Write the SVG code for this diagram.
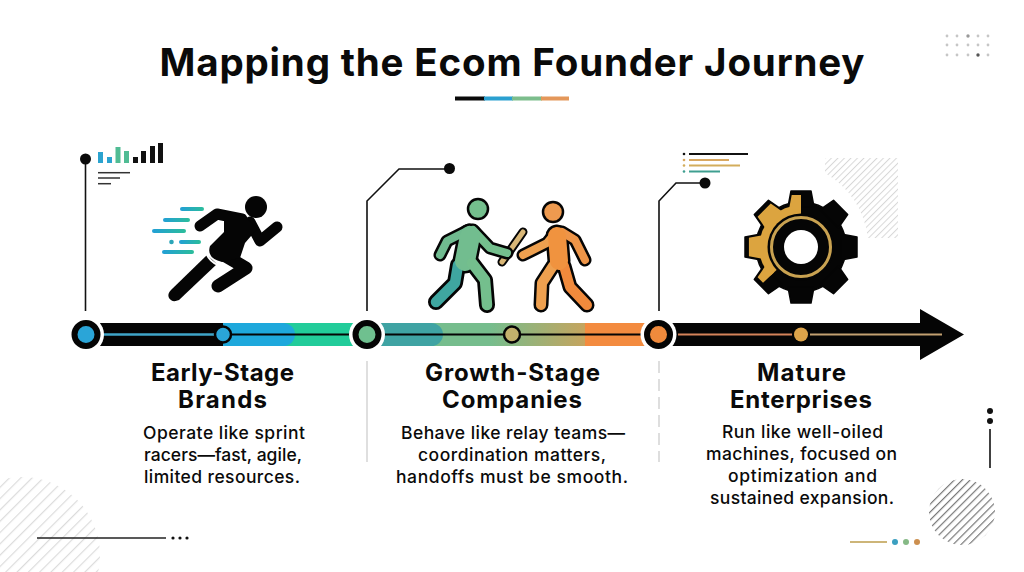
<svg xmlns="http://www.w3.org/2000/svg" xmlns:xlink="http://www.w3.org/1999/xlink" width="1024" height="572" viewBox="0 0 1024 572">
<style>
text{font-family:"Inter","Liberation Sans",sans-serif;fill:#0a0a0a;text-anchor:middle}
.title{font-size:38.500px;font-weight:700}
.head{font-size:24px;font-weight:700}
.body{font-size:17.500px;font-weight:500}
.thin{fill:none;stroke:#111;stroke-width:1.600}
.rl{fill:none;stroke-linecap:round;stroke-linejoin:round}
</style>
<defs>
<pattern id="hL" width="8" height="8" patternUnits="userSpaceOnUse" patternTransform="rotate(45)"><rect width="1.200" height="8" fill="#dcdcdc"/></pattern>
<pattern id="hS" width="4.600" height="4.600" patternUnits="userSpaceOnUse" patternTransform="rotate(45)"><rect width="1" height="4.600" fill="#d8d8d8"/></pattern>
<pattern id="hD" width="5.600" height="5.600" patternUnits="userSpaceOnUse" patternTransform="rotate(45)"><rect width="1.200" height="5.600" fill="#777"/></pattern>
<linearGradient id="speed"><stop offset="0" stop-color="#229fd6"/><stop offset="1" stop-color="#2bbd9a"/></linearGradient>
<linearGradient id="b2" gradientUnits="userSpaceOnUse" x1="490" x2="590" y1="0" y2="0"><stop offset="0" stop-color="#76bd8d"/><stop offset="1" stop-color="#c9a35c"/></linearGradient>
<g id="gear"><circle r="45"/>
<path d="M-10-56H10L13-40H-13Z"/><path d="M-10-56H10L13-40H-13Z" transform="rotate(45)"/><path d="M-10-56H10L13-40H-13Z" transform="rotate(90)"/><path d="M-10-56H10L13-40H-13Z" transform="rotate(135)"/><path d="M-10-56H10L13-40H-13Z" transform="rotate(180)"/><path d="M-10-56H10L13-40H-13Z" transform="rotate(225)"/><path d="M-10-56H10L13-40H-13Z" transform="rotate(270)"/><path d="M-10-56H10L13-40H-13Z" transform="rotate(315)"/></g>
<clipPath id="gclip"><path d="M801 247V185H730V314Z"/></clipPath>
</defs>
<rect width="1024" height="572" fill="#fff"/>
<g id="decor">
<circle cx="22" cy="555" r="78" fill="url(#hL)"/>
<path d="M825 158H898V238H868Q862 195 825 173Z" fill="url(#hS)"/>
<circle cx="962" cy="512" r="33" fill="url(#hD)"/>
<path d="M37 538H166" stroke="#222" stroke-width="1.600"/>
<g fill="#111"><circle cx="173" cy="538" r="1.600"/><circle cx="180" cy="538" r="1.600"/><circle cx="187" cy="538" r="1.600"/></g>
<circle cx="990" cy="411" r="3" fill="#111"/><circle cx="990" cy="421" r="3" fill="#111"/>
<path d="M990 429V468" stroke="#111" stroke-width="1.600"/>
<path d="M850 542H887" stroke="#cdb578" stroke-width="2"/>
<circle cx="895" cy="542" r="3" fill="#3b9fc0"/><circle cx="906" cy="542" r="3" fill="#86b986"/><circle cx="917" cy="542" r="3" fill="#cc8f4f"/>
<g fill="#c6c6c6"><circle cx="947" cy="36" r="1.400"/><circle cx="957" cy="36" r="1.400"/><circle cx="968" cy="36" r="1.700" fill="#999"/><circle cx="978" cy="36" r="1.400"/><circle cx="988" cy="36" r="1.400"/><circle cx="947" cy="45" r="1.400"/><circle cx="957" cy="45" r="1.400"/><circle cx="968" cy="45" r="1.400"/><circle cx="978" cy="45" r="1.400"/><circle cx="988" cy="45" r="1.400"/><circle cx="947" cy="55" r="1.400"/><circle cx="957" cy="55" r="1.400"/><circle cx="968" cy="55" r="1.400"/><circle cx="978" cy="55" r="1.700" fill="#555"/><circle cx="988" cy="55" r="1.400"/></g>
<path d="M367 361V462" stroke="#d4d4d4" stroke-width="1.500"/>
<path d="M659 361V462" stroke="#d4d4d4" stroke-width="1.500" stroke-dasharray="12 6"/>
</g>
<g id="title">
<text class="title" x="512" y="76" textLength="705">Mapping the Ecom Founder Journey</text>
<rect x="455" y="96.500" width="30" height="4" fill="#0a0a0a"/><rect x="484" y="96.500" width="29" height="4" fill="#2aa0d0"/><rect x="512" y="96.500" width="30" height="4" fill="#7cbd8c"/><rect x="541" y="96.500" width="28" height="4" fill="#e4975a"/>
</g>
<g id="connectors">
<path class="thin" d="M85.500 159V311"/>
<circle cx="85.500" cy="159" r="5.500" fill="#0a0a0a"/>
<path class="thin" d="M367 311V201L399 169H449"/>
<circle cx="449.500" cy="168.500" r="5.500" fill="#0a0a0a"/>
<path class="thin" d="M659 311V201L676 183H705"/>
<circle cx="705" cy="183" r="5.500" fill="#0a0a0a"/>
<g id="timeline">
<rect x="223" y="323" width="135" height="23" fill="#22cc9a"/>
<path d="M223 323H283A12 11.500 0 0 1 283 346H223Z" fill="#1ea8dc"/>
<rect x="100" y="323" width="123" height="23" fill="#050505"/>
<rect x="376" y="323" width="270" height="23" fill="#76bd8d"/>
<rect x="490" y="323" width="100" height="23" fill="url(#b2)"/>
<rect x="585" y="323" width="60" height="23" fill="#f38b3f"/>
<path d="M376 323H431A12 11.500 0 0 1 431 346H376Z" fill="#3fa3a3"/>
<path d="M668 323H920V309L964 334.500L920 360V346H668Z" fill="#050505"/>
<path d="M100 334.500H223" stroke="#3fa5c8" stroke-width="2.400"/>
<path d="M223 334.500H355" stroke="#050505" stroke-width="2.200"/>
<path d="M380 334.500H645" stroke="#050505" stroke-width="2.200"/>
<path d="M678 334.500H792" stroke="#d5835a" stroke-width="2.200"/>
<path d="M810 334.500H942" stroke="#c2a070" stroke-width="2.200"/>
</g>
</g>
<g id="node-early">
<circle cx="86" cy="334.500" r="18" fill="#fff"/><circle cx="86" cy="334.500" r="11.500" fill="#2aa5d8" stroke="#050505" stroke-width="6"/>
<circle cx="223" cy="334.500" r="8" fill="#2aa5d8" stroke="#050505" stroke-width="2.500"/>
<g fill="#2ba3cf"><rect x="98" y="152" width="5" height="11"/><rect x="107" y="157" width="5" height="6"/></g>
<g fill="#50bc94"><rect x="115.500" y="147" width="5" height="16"/><rect x="124" y="151" width="5" height="12"/></g>
<g fill="#111"><rect x="133" y="157" width="5" height="6"/><rect x="141" y="151" width="5" height="12"/><rect x="150" y="146" width="5" height="17"/><rect x="158" y="143" width="5" height="20"/></g>
<g stroke="#333" stroke-width="1.500"><path d="M98 172.700H130"/><path d="M98 178H120"/><path d="M98 183.700H111"/></g>
<g fill="url(#speed)"><rect x="180" y="207" width="24" height="4" rx="2"/><rect x="163" y="218" width="27" height="4" rx="2"/><rect x="152" y="229" width="34" height="4" rx="2"/><rect x="179" y="240" width="22" height="4" rx="2"/><rect x="162" y="250" width="32" height="4" rx="2"/></g>
<circle cx="171.500" cy="242" r="2.300" fill="#2aa5b8"/>
<circle cx="256" cy="207" r="11" fill="#050505"/>
<path d="M207 255L217 264L179 300Q172 303 169 298Q167 294 171 290Z" fill="#050505"/>
<g class="rl" stroke="#050505">
<path d="M200 226L217 214L242 219" stroke-width="11"/>
<path d="M250 222L260 241L277 227" stroke-width="11"/>
<path d="M222 254L246 268L218 286" stroke-width="13"/>
</g>
<path d="M224 211L246 217L257 229L245 243L240 258L222 262Q206 258 210 246L224 232Z" fill="#050505"/>
<path d="M206 253Q210 262 218 265" fill="none" stroke="#fff" stroke-width="2"/>
<text class="head" x="222.500" y="381" textLength="143">Early-Stage</text><text class="head" x="222.500" y="408" textLength="89">Brands</text>
<text class="body" x="224" y="439" textLength="162">Operate like sprint</text><text class="body" x="223" y="461" textLength="158">racers—fast, agile,</text><text class="body" x="222" y="483" textLength="156">limited resources.</text>
</g>
<g id="node-growth">
<circle cx="367" cy="334.500" r="18" fill="#fff"/><circle cx="367" cy="334.500" r="11.500" fill="#6fc08f" stroke="#050505" stroke-width="6"/>
<circle cx="512" cy="334.500" r="8" fill="#c3b06c" stroke="#050505" stroke-width="2.500"/>
<path d="M523 232L502 262" stroke="#050505" stroke-width="9" stroke-linecap="round"/><path d="M523 232L502 262" stroke="#d9b777" stroke-width="5" stroke-linecap="round"/>
<circle cx="478" cy="209" r="10" fill="#74bf8d" stroke="#050505" stroke-width="2.500"/>
<g class="rl" stroke="#050505">
<path d="M469 230L447 241L440 255" stroke-width="13"/>
<path d="M473 230L490 248L507 253" stroke-width="13"/>
<path d="M470 236L465 261" stroke-width="25"/>
<path d="M458 265L455 283L436 302" stroke-width="16"/>
<path d="M472 263L485 280L487 305" stroke-width="16"/>
</g>
<g class="rl">
<path d="M458 265L455 283L436 302" stroke="#3fa6a0" stroke-width="10.500"/>
<path d="M469 230L447 241L440 255" stroke="#6fba8f" stroke-width="8"/>
<path d="M473 230L490 248L507 253" stroke="#74bf8d" stroke-width="8"/>
<path d="M470 236L465 261" stroke="#72bd8f" stroke-width="20"/>
<path d="M472 263L485 280L487 305" stroke="#74bf8d" stroke-width="10.500"/>
</g>
<circle cx="553" cy="212" r="10" fill="#ee9a4f" stroke="#050505" stroke-width="2.500"/>
<g class="rl" stroke="#050505">
<path d="M556 232L547 243L523 255" stroke-width="13"/>
<path d="M562 232L575 240L585 260" stroke-width="13"/>
<path d="M557 236L559 261" stroke-width="23"/>
<path d="M553 266L542 283L541 305" stroke-width="15"/>
<path d="M564 266L570 287L587 305" stroke-width="15"/>
</g>
<g class="rl">
<path d="M564 266L570 287L587 305" stroke="#f08a3c" stroke-width="10"/>
<path d="M553 266L542 283L541 305" stroke="#eea04f" stroke-width="10"/>
<path d="M556 232L547 243L523 255" stroke="#eea04f" stroke-width="8"/>
<path d="M562 232L575 240L585 260" stroke="#ee9548" stroke-width="8"/>
<path d="M557 236L559 261" stroke="#f0933f" stroke-width="18"/>
</g>
<text class="head" x="512.500" y="381" textLength="175">Growth-Stage</text><text class="head" x="512" y="408" textLength="140">Companies</text>
<text class="body" x="513" y="439" textLength="224">Behave like relay teams—</text><text class="body" x="512" y="461" textLength="188">coordination matters,</text><text class="body" x="512" y="483" textLength="232">handoffs must be smooth.</text>
</g>
<g id="node-mature">
<circle cx="658.500" cy="334.500" r="18" fill="#fff"/><circle cx="658.500" cy="334.500" r="11.500" fill="#f08a3c" stroke="#050505" stroke-width="6"/>
<circle cx="801" cy="334.500" r="7" fill="#dca34a"/>
<g stroke-width="2"><path d="M689 154H748" stroke="#111"/><path d="M689 160H729" stroke="#d9a860"/><path d="M689 165.500H740" stroke="#d3ad5c"/><path d="M689 171.500H720" stroke="#3f9f90"/></g>
<circle cx="684" cy="154" r="1.300" fill="#111"/><circle cx="684" cy="160" r="1.300" fill="#d9a860"/><circle cx="684" cy="165.500" r="1.300" fill="#d3ad5c"/><circle cx="684" cy="171.500" r="1.300" fill="#3f9f90"/>
<use xlink:href="#gear" href="#gear" transform="translate(801 247)" fill="#050505" stroke="#050505" stroke-width="1.500" stroke-linejoin="round"/>
<g clip-path="url(#gclip)"><use xlink:href="#gear" href="#gear" transform="translate(801 247) scale(.93)" fill="#dca43f"/></g>
<circle cx="801" cy="247" r="33.500" fill="#050505"/>
<circle cx="801" cy="247" r="29.500" fill="#050505" stroke="#c9a251" stroke-width="3"/>
<circle cx="801" cy="247" r="17" fill="#fff"/>
<text class="head" x="801.500" y="381" textLength="89">Mature</text><text class="head" x="801" y="408" textLength="142">Enterprises</text>
<text class="body" x="802.500" y="438" textLength="161">Run like well-oiled</text><text class="body" x="801.500" y="460" textLength="191">machines, focused on</text><text class="body" x="802.500" y="482" textLength="149">optimization and</text><text class="body" x="802" y="504" textLength="184">sustained expansion.</text>
</g>
</svg>
